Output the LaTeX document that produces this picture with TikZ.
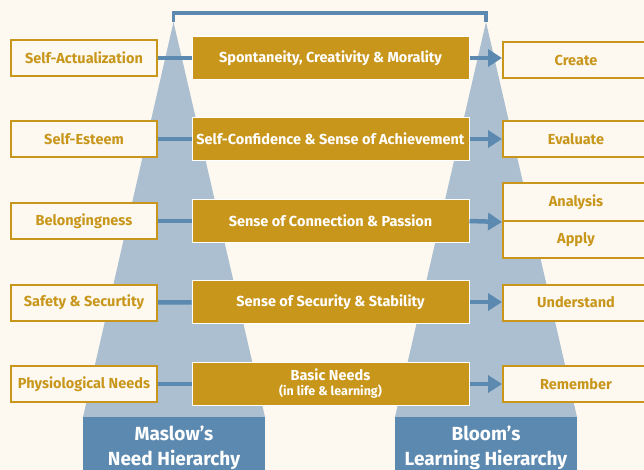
\documentclass[tikz,border=0pt]{standalone}
\usepackage{fontspec}
\setmainfont{Fira Sans}
\usepackage{tikz}
\usetikzlibrary{arrows.meta}
\definecolor{cream}{HTML}{FDF9F1}
\definecolor{gold}{HTML}{C8961B}
\definecolor{skyblue}{HTML}{ABBFD0}
\definecolor{steel}{HTML}{5C89B0}
\tikzstyle{level} = [draw=gold,line width=2pt,fill=cream,text=gold,inner sep=0pt,minimum width=146pt,minimum height=36pt,font=\bfseries\fontsize{14.5}{17}\selectfont]
\tikzstyle{gain} = [draw=white,line width=1pt,fill=gold,text=white,inner sep=0pt,align=center,minimum width=277pt,minimum height=43pt,font=\bfseries\fontsize{14.5}{17}\selectfont]
\tikzstyle{tag} = [fill=steel,text=white,inner sep=0pt,align=center,minimum width=182pt,minimum height=62pt,font=\bfseries\fontsize{19}{25}\selectfont]
\tikzstyle{link} = [draw=steel,line width=4.5pt]
\tikzstyle{arrow} = [link,-{Triangle[length=14pt,width=17pt]}]

\begin{document}
\begin{tikzpicture}[x=1pt,y=-1pt]
            \useasboundingbox (0,0) rectangle (644,470);
            \fill[cream] (0,0) rectangle (644,470);
            \clip (0,0) rectangle (644,470);
 %                   pyramids
            \coordinate (mtop) at (173.5,22);
            \coordinate (btop) at (486,22);
            \fill[skyblue] (mtop) -- (83,417) -- (265,417) -- cycle;
            \fill[skyblue] (btop) -- (395,417) -- (577,417) -- cycle;
            \draw[steel,line width=3.5pt] (mtop) -- ++(0,-9) -| (btop);
            \node[tag,anchor=north] (maslow) at (174,417) {Maslow’s\\Need Hierarchy};
            \node[tag,anchor=north] (bloom) at (486,417) {Bloom’s\\Learning Hierarchy};
 %                   Maslow levels
            \node[level] (selfact) at (84,58) {Self-Actualization};
            \node[level] (esteem) at (84,139) {Self-Esteem};
            \node[level] (belong) at (84,221) {Belongingness};
            \node[level] (safety) at (84,302.5) {Safety \& Securtity};
            \node[level] (physio) at (84,384) {Physiological Needs};
 %                   what links them
            \node[gain] (spont) at (330.5,58) {Spontaneity, Creativity \& Morality};
            \node[gain] (confid) at (330.5,139) {Self-Confidence \& Sense of Achievement};
            \node[gain] (connect) at (330.5,221) {Sense of Connection \& Passion};
            \node[gain] (secure) at (330.5,302) {Sense of Security \& Stability};
            \node[gain] (basic) at (330.5,384) {Basic Needs\\[-2pt]{\fontsize{12.5}{14}\selectfont (in life \& learning)}};
 %                   Bloom levels
            \node[level] (create) at (576,60) {Create};
            \node[level] (evaluate) at (576,139.5) {Evaluate};
            \node[level,minimum height=38pt] (analysis) at (576,202) {Analysis};
            \node[level,minimum height=37pt] (apply) at (576,239.5) {Apply};
            \node[level] (understand) at (576,302.5) {Understand};
            \node[level] (remember) at (576,384) {Remember};
            \draw[link] (selfact) -- (spont);
            \draw[link] (esteem) -- (confid);
            \draw[link] (belong) -- (connect);
            \draw[link] (safety) -- (secure);
            \draw[link] (physio) -- (basic);
            \draw[arrow] (spont.east) -- (spont.east -| create.west);
            \draw[arrow] (confid.east) -- (confid.east -| evaluate.west);
            \draw[arrow] (connect.east) -- (analysis.south west);
            \draw[arrow] (secure.east) -- (secure.east -| understand.west);
            \draw[arrow] (basic.east) -- (basic.east -| remember.west);
        \end{tikzpicture}
\end{document}
